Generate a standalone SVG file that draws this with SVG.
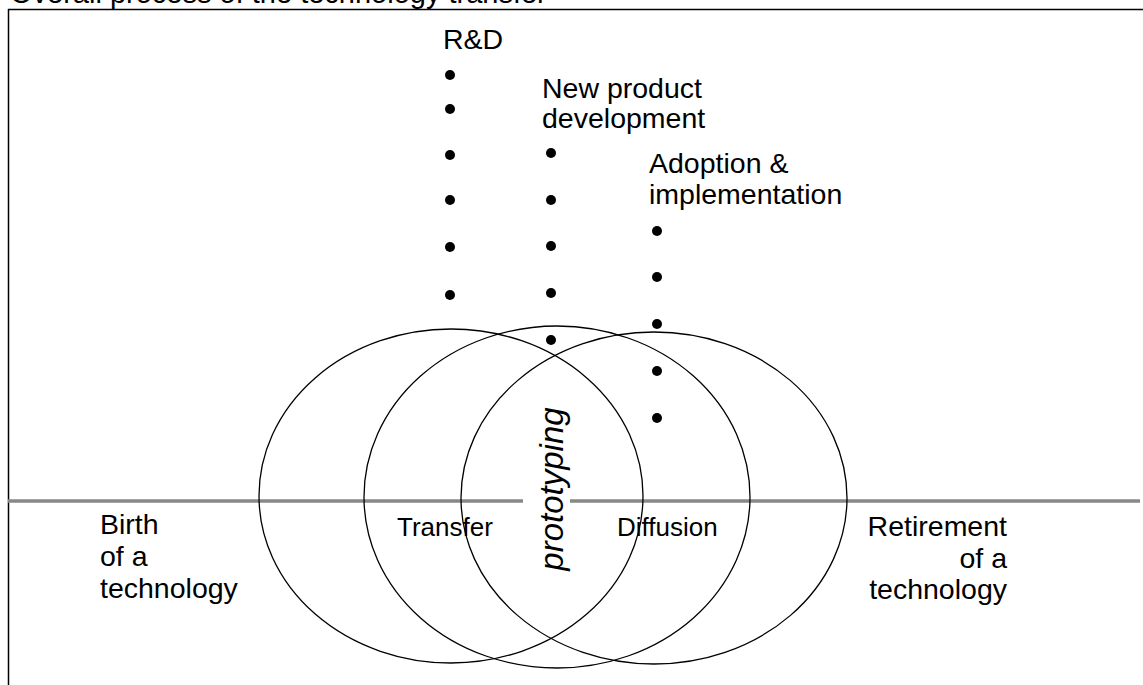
<svg xmlns="http://www.w3.org/2000/svg" width="1143" height="685" viewBox="0 0 1143 685">
<style>
.t{font-family:"Liberation Sans",Arial,sans-serif;fill:#000;}
.big{font-size:28.5px;}
.mid{font-size:26px;}
.e{fill:none;stroke:#000;stroke-width:1.3;}
.g{stroke:#888;stroke-width:3.5;fill:none;}
.d{fill:#000;}
</style>
<rect width="1143" height="685" fill="#fff"/>
<text class="t" x="10" y="3" font-size="29">Overall process of the technology transfer</text>
<g id="frame">
<line x1="8" y1="9.5" x2="1143" y2="9.5" stroke="#000" stroke-width="1.5"/>
<line x1="8.5" y1="9" x2="8.5" y2="685" stroke="#000" stroke-width="1.5"/>
</g>
<g id="connectors">
<line class="g" x1="8" y1="501" x2="523" y2="501"/>
<line class="g" x1="570" y1="501" x2="1140" y2="501"/>
</g>
<g id="circle-left"><ellipse class="e" cx="451" cy="496" rx="192" ry="167"/></g>
<g id="circle-middle"><ellipse class="e" cx="557" cy="497" rx="193" ry="171"/></g>
<g id="circle-right"><ellipse class="e" cx="654" cy="498" rx="193" ry="166"/></g>
<g id="rd">
<text class="t big" x="443" y="49">R&amp;D</text>
<circle class="d" cx="450" cy="75" r="5"/>
<circle class="d" cx="450" cy="109" r="5"/>
<circle class="d" cx="450" cy="155" r="5"/>
<circle class="d" cx="450" cy="200" r="5"/>
<circle class="d" cx="450" cy="247" r="5"/>
<circle class="d" cx="450" cy="295" r="5"/>
</g>
<g id="npd">
<text class="t big" x="542" y="98">New product</text>
<text class="t big" x="542" y="128">development</text>
<circle class="d" cx="551" cy="153" r="5"/>
<circle class="d" cx="551" cy="200" r="5"/>
<circle class="d" cx="551" cy="246" r="5"/>
<circle class="d" cx="551" cy="293" r="5"/>
<circle class="d" cx="551" cy="340" r="5"/>
</g>
<g id="adoption">
<text class="t big" x="649" y="173">Adoption &amp;</text>
<text class="t big" x="649" y="204">implementation</text>
<circle class="d" cx="657" cy="231" r="5"/>
<circle class="d" cx="657" cy="277" r="5"/>
<circle class="d" cx="657" cy="324" r="5"/>
<circle class="d" cx="657" cy="371" r="5"/>
<circle class="d" cx="657" cy="418" r="5"/>
</g>
<g id="prototyping">
<text class="t" font-size="33" font-style="italic" text-anchor="middle" transform="translate(563,489) rotate(-90)">prototyping</text>
</g>
<g id="transfer"><text class="t mid" x="397" y="536">Transfer</text></g>
<g id="diffusion"><text class="t mid" x="617" y="536">Diffusion</text></g>
<g id="birth">
<text class="t big" x="100" y="534">Birth</text>
<text class="t big" x="100" y="566">of a</text>
<text class="t big" x="100" y="598">technology</text>
</g>
<g id="retirement">
<text class="t big" x="1007" y="536" text-anchor="end">Retirement</text>
<text class="t big" x="1007" y="568" text-anchor="end">of a</text>
<text class="t big" x="1007" y="599" text-anchor="end">technology</text>
</g>
</svg>
